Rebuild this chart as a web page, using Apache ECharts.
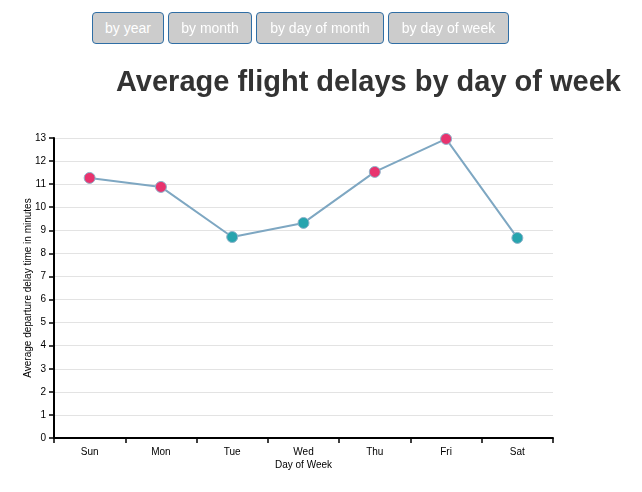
<!DOCTYPE html>
<html><head><meta charset="utf-8">
<script src="https://cdn.jsdelivr.net/npm/echarts@6/dist/echarts.min.js"></script>
<style>
html,body{margin:0;padding:0;background:#fff;}
#chart{position:absolute;left:0;top:0;width:642px;height:492px;}
.btn{position:absolute;top:12px;height:32px;box-sizing:border-box;background:#cccccc;border:1px solid #2f6ea5;border-radius:4px;color:#fff;font-family:"Liberation Sans",Arial,sans-serif;font-size:14px;line-height:30px;text-align:center;z-index:2;}
</style></head>
<body>
<div id="chart"></div>
<div class="btn" style="left:92px;width:72px;">by year</div>
<div class="btn" style="left:168px;width:84px;">by month</div>
<div class="btn" style="left:256px;width:128px;">by day of month</div>
<div class="btn" style="left:388px;width:121px;">by day of week</div>
<script>
const days = ['Sun','Mon','Tue','Wed','Thu','Fri','Sat'];
const delays = [11.27, 10.88, 8.71, 9.32, 11.53, 12.96, 8.67];
const yTicks = {min: 0, max: 13, interval: 1};
const threshold = 10;

const chart = echarts.init(document.getElementById('chart'));
const font = '"Liberation Sans", Arial, sans-serif';
chart.setOption({
  animation: false,
  title: {
    text: 'Average flight delays by day of week',
    left: 111, top: 63,
    textStyle: {fontFamily: font, fontSize: 29, fontWeight: 'bold', color: '#333'}
  },
  grid: {left: 54, right: 89, top: 138, bottom: 54},
  xAxis: {
    type: 'category',
    data: days,
    name: 'Day of Week',
    nameLocation: 'middle',
    nameGap: 22,
    nameMoveOverlap: false,
    nameTextStyle: {fontFamily: font, fontSize: 10, color: '#000'},
    axisLine: {lineStyle: {color: '#000', width: 2}},
    axisTick: {show: true, length: 5, lineStyle: {color: '#000', width: 1.5}},
    axisLabel: {fontFamily: font, fontSize: 10, color: '#000', margin: 9},
    boundaryGap: true
  },
  yAxis: {
    type: 'value',
    min: yTicks.min, max: yTicks.max, interval: yTicks.interval,
    name: 'Average departure delay time in minutes',
    nameLocation: 'middle',
    nameGap: 21,
    nameMoveOverlap: false,
    nameTextStyle: {fontFamily: font, fontSize: 10, color: '#000'},
    axisLine: {show: true, lineStyle: {color: '#000', width: 2}},
    axisTick: {show: true, length: 5, lineStyle: {color: '#000', width: 1.5}},
    axisLabel: {fontFamily: font, fontSize: 10, color: '#000', margin: 8},
    splitLine: {show: true, lineStyle: {color: '#e3e3e3', width: 1}}
  },
  series: [{
    type: 'line',
    data: delays,
    symbol: 'circle',
    symbolSize: 11,
    lineStyle: {color: '#7ea7c2', width: 2},
    itemStyle: {
      color: function (p) { return p.value > threshold ? '#e8336e' : '#27a4ae'; },
      borderColor: '#8fb2c9',
      borderWidth: 1
    },
    z: 3
  }]
});
</script>
</body></html>
